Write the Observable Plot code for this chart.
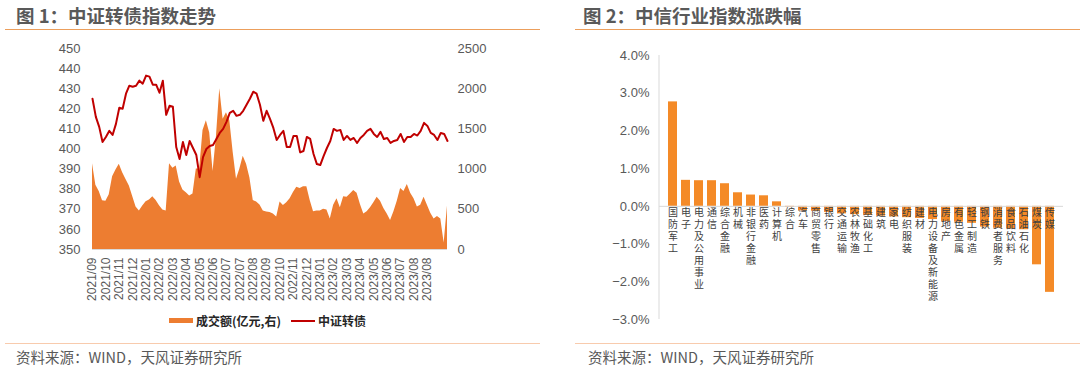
<!DOCTYPE html>
<html><head><meta charset="utf-8">
<script src="https://cdn.jsdelivr.net/npm/d3@7"></script>
<script src="https://cdn.jsdelivr.net/npm/@observablehq/plot@0.6"></script>
<style>
html,body{margin:0;padding:0;background:#fff;}
body{width:1080px;height:377px;overflow:hidden;position:relative;font-family:"Liberation Sans","Noto Sans CJK SC",sans-serif;}
.abs{position:absolute;white-space:nowrap;}
.title{font-family:"Noto Sans CJK SC",sans-serif;font-size:18.5px;font-weight:bold;color:#595959;line-height:22px;}
.foot{font-family:"Noto Sans CJK SC",sans-serif;font-size:14.5px;color:#595959;line-height:18px;}
.leg{font-family:"Noto Sans CJK SC",sans-serif;font-size:12px;font-weight:bold;color:#262626;line-height:16px;}
.topline{height:1px;background:#EC9F5C;}
.botline{height:1px;background:#F8CBAD;}
</style></head><body>
<div class="abs title" style="left:16px;top:4px;">图 1：中证转债指数走势</div>
<div class="abs topline" style="left:5px;top:29px;width:535px;"></div>
<div class="abs" id="left" style="left:0;top:30px;"></div>
<div class="abs" style="left:169px;top:318px;width:24px;height:5px;background:#ED7D31;"></div>
<div class="abs leg" style="left:196px;top:313px;">成交额(亿元,右)</div>
<div class="abs" style="left:291px;top:320px;width:24px;height:2px;background:#C00000;"></div>
<div class="abs leg" style="left:318px;top:313px;">中证转债</div>
<div class="abs botline" style="left:5px;top:343px;width:535px;"></div>
<div class="abs foot" style="left:16px;top:348px;">资料来源：WIND，天风证券研究所</div>

<div class="abs title" style="left:583px;top:4px;">图 2：中信行业指数涨跌幅</div>
<div class="abs topline" style="left:575px;top:29px;width:505px;"></div>
<div class="abs" id="right" style="left:570px;top:30px;"></div>
<div class="abs botline" style="left:575px;top:343px;width:505px;"></div>
<div class="abs foot" style="left:588px;top:348px;">资料来源：WIND，天风证券研究所</div>

<script>
// ---- Figure 1 data ----
const xLabels = ["2021/09","2021/10","2021/11","2021/12","2022/01","2022/02","2022/03","2022/04","2022/05","2022/06","2022/07","2022/07","2022/08","2022/09","2022/10","2022/11","2022/12","2023/01","2023/02","2023/03","2023/04","2023/05","2023/06","2023/07","2023/08","2023/08"];
const cbIndex = [
425, 416, 411, 403.5, 406, 409, 407, 412.5, 420.5, 420,
427.5, 431.5, 431, 431.5, 434, 432.5, 436.5, 436, 432, 432,
428, 434, 417, 421.5, 421, 401, 395, 403.5, 397, 404,
400.5, 397, 386, 396, 400, 401.5, 402, 405, 408, 410,
413.5, 418, 419, 416.5, 417, 419, 422, 425, 428.5, 427.5,
422, 414, 419, 415, 410.5, 404.5, 407, 409, 401, 401,
406.5, 406.5, 398.3, 399, 406, 405, 397.5, 392.5, 392, 396.5,
400.5, 404, 410, 409, 409.5, 404.5, 406.5, 404.5, 405.5, 403,
405.5, 407, 409, 410, 407.5, 406, 408.5, 405, 405.5, 403,
404, 404.5, 407.5, 403.5, 406, 406, 407.5, 406.7, 409, 413,
411.5, 408, 407, 404.5, 408, 407.5, 404];
const volume = [
1067, 800, 720, 605, 600, 680, 905, 990, 1060, 955,
870, 790, 660, 530, 480, 540, 595, 615, 655, 610,
545, 490, 480, 1065, 1010, 1040, 840, 740, 705, 665,
690, 1000, 1000, 1480, 1600, 1450, 970, 1400, 2000, 1620,
1700, 1600, 1210, 875, 1000, 1160, 1060, 890, 610, 590,
555, 480, 465, 460, 440, 403, 590, 548, 580, 630,
710, 775, 760, 780, 780, 610, 470, 480, 480, 500,
490, 380, 550, 630, 520, 655, 650, 690, 735, 700,
560, 440, 470, 520, 580, 650, 600, 510, 440, 360,
470, 600, 760, 720, 810, 700, 630, 530, 550, 650,
550, 450, 380, 410, 380, 80, 540];
const leftTicks = [350, 360, 370, 380, 390, 400, 410, 420, 430, 440, 450];
const rightTicks = [0, 500, 1000, 1500, 2000, 2500];

// ---- Figure 2 data ----
const industries = ["国防军工","电子","电力及公用事业","通信","综合金融","机械","非银行金融","医药","计算机","综合","汽车","商贸零售","银行","交通运输","农林牧渔","基础化工","建筑","家电","纺织服装","建材","电力设备及新能源","房地产","有色金属","轻工制造","钢铁","消费者服务","食品饮料","石油石化","煤炭","传媒"];
const changes = [2.77, 0.69, 0.68, 0.68, 0.60, 0.36, 0.30, 0.28, 0.12, -0.03, -0.12, -0.13, -0.16, -0.20, -0.22, -0.24, -0.26, -0.28, -0.30, -0.32, -0.35, -0.40, -0.42, -0.45, -0.55, -0.58, -0.60, -0.62, -1.55, -2.28];
const pctTicks = [-3, -2, -1, 0, 1, 2, 3, 4];

const FONT = '"Liberation Sans","Noto Sans CJK SC",sans-serif';
const volScale = 2500 / 100; // right-axis units per left-axis unit
const toLeft = v => 350 + v / volScale;

const rows = cbIndex.map((v, i) => ({i, v, vol: volume[i]}));

const left = Plot.plot({
  width: 540, height: 280,
  marginTop: 18, marginBottom: 61, marginLeft: 92, marginRight: 93,
  style: {fontFamily: FONT, fontSize: "13px", color: "#595959", background: "transparent", overflow: "visible"},
  x: {domain: [0, cbIndex.length - 1]},
  y: {domain: [350, 450]},
  marks: [
    Plot.areaY(rows, {x: "i", y1: 350, y2: d => toLeft(d.vol), fill: "#ED7D31"}),
    Plot.line(rows, {x: "i", y: "v", stroke: "#C00000", strokeWidth: 2}),
    Plot.ruleY([350], {stroke: "#D9D9D9"}),
    Plot.axisY({ticks: leftTicks, tickSize: 0, tickPadding: 12, label: null, fontSize: 13}),
    Plot.axisY({anchor: "right", ticks: rightTicks.map(toLeft), tickFormat: d => String(Math.round((d - 350) * volScale)), tickSize: 0, tickPadding: 10, label: null, fontSize: 13}),
    Plot.axisX({ticks: xLabels.map((_, k) => k * 4), tickFormat: d => xLabels[Math.round(d / 4)], tickRotate: -90, tickSize: 0, tickPadding: 8, label: null, fontSize: 12})
  ]
});
document.getElementById("left").appendChild(left);

const bars = industries.map((name, i) => ({name, v: changes[i]}));
const fmtPct = d => (d < 0 ? "\u2212" : "") + Math.abs(d).toFixed(1) + "%";

// vertical category labels: one text mark per character row
const LH = 12;
const maxChars = d3.max(industries, s => s.length);
const labelMarks = d3.range(maxChars).map(j =>
  Plot.text(bars.filter(d => d.name.length > j), {
    x: "name", y: 0, text: d => d.name[j],
    lineAnchor: "top", dy: 3 + j * LH, fontSize: 10, fill: "#404040",
    fontFamily: FONT
  })
);

const right = Plot.plot({
  width: 510, height: 300,
  marginTop: 25, marginBottom: 11, marginLeft: 89, marginRight: 17,
  style: {fontFamily: FONT, fontSize: "13px", color: "#595959", background: "transparent", overflow: "visible"},
  x: {domain: industries, padding: 0.33, axis: null},
  y: {domain: [-3, 4]},
  marks: [
    Plot.barY(bars, {x: "name", y: "v", fill: "#F48A27"}),
    Plot.ruleY([0], {stroke: "#D9D9D9"}),
    (index, scales, values, dims) => {
      const y = scales.y;
      return d3.create("svg:line")
        .attr("x1", dims.marginLeft).attr("x2", dims.marginLeft)
        .attr("y1", y(4)).attr("y2", y(-3))
        .attr("stroke", "#D9D9D9").node();
    },
    Plot.axisY({ticks: pctTicks, tickFormat: fmtPct, tickSize: 0, tickPadding: 10, label: null, fontSize: 13}),
    ...labelMarks
  ]
});
document.getElementById("right").appendChild(right);
</script>
</body></html>
